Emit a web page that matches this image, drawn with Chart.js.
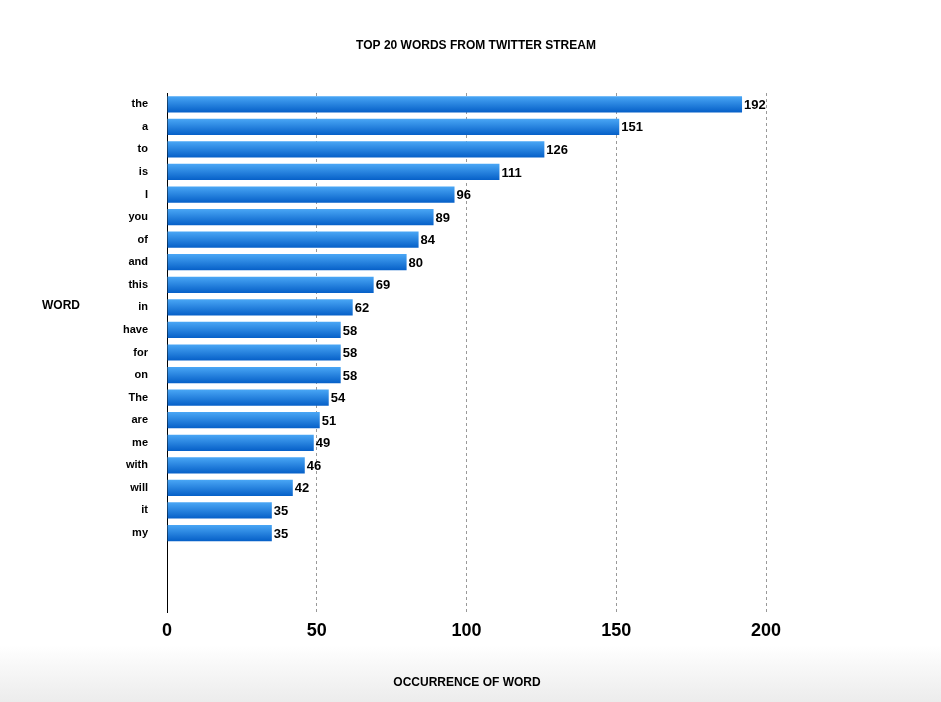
<!DOCTYPE html>
<html><head><meta charset="utf-8">
<script src="https://cdn.jsdelivr.net/npm/chart.js@4/dist/chart.umd.min.js"></script>
<style>
html,body{margin:0;padding:0;width:941px;height:702px;overflow:hidden;
background:linear-gradient(to bottom,#fff 0px,#fff 645px,#ececec 702px);}
#c{display:block}
</style></head><body>
<canvas id="c" width="941" height="702"></canvas>
<script>
const words=["the","a","to","is","I","you","of","and","this","in","have","for","on","The","are","me","with","will","it","my","","",""];
const counts=[192,151,126,111,96,89,84,80,69,62,58,58,58,54,51,49,46,42,35,35,null,null,null];
const xTicks=[0,50,100,150,200];
const FONT="'Liberation Sans', Arial, sans-serif";
Chart.defaults.font.family=FONT;
const overlay={id:'overlay',afterDatasetsDraw(chart){
  const c=chart.ctx,a=chart.chartArea;c.save();
  c.fillStyle='#000';
  c.font="bold 13px "+FONT;c.textBaseline='middle';c.textAlign='left';
  chart.getDatasetMeta(0).data.forEach((el,i)=>{if(counts[i]==null)return;c.fillText(String(counts[i]),el.x+2,el.y+1);});
  c.font="bold 12px "+FONT;c.textAlign='center';
  c.fillText('TOP 20 WORDS FROM TWITTER STREAM',476,46);
  c.fillText('OCCURRENCE OF WORD',467,683);
  c.fillText('WORD',61,306);
  c.restore();}};
new Chart(document.getElementById('c'),{type:'bar',
data:{labels:words,datasets:[{data:counts,
 backgroundColor:(ctx)=>{const y=ctx.chart.scales.y;if(!y)return '#1a7be0';const p=y.getPixelForValue(ctx.dataIndex);
  if(!isFinite(p))return '#1a7be0';
  const g=ctx.chart.ctx.createLinearGradient(0,p-8,0,p+8);g.addColorStop(0,'#49a6f5');g.addColorStop(1,'#0660c8');return g;},
 barPercentage:0.72,categoryPercentage:1,borderWidth:0}]},
options:{indexAxis:'y',responsive:false,animation:false,devicePixelRatio:1,
 layout:{padding:{top:93,right:175,left:0,bottom:0}},
 plugins:{legend:{display:false},tooltip:{enabled:false}},
 scales:{
  x:{min:0,max:200,afterBuildTicks:s=>{s.ticks=xTicks.map(v=>({value:v}));},
   afterFit:s=>{s.height=90;},
   ticks:{font:{size:18,weight:'bold'},color:'#000',padding:8},
   grid:{color:(c)=>c.tick&&c.tick.value===0?'rgba(0,0,0,0)':'#999',drawTicks:false,tickLength:0},
   border:{display:false,dash:[3,3]}},
  y:{afterFit:s=>{s.width=167;},
   ticks:{font:{size:11,weight:'bold'},color:'#000',padding:11},
   grid:{display:false},border:{display:true,color:'#000',width:1}}
 }},
plugins:[overlay]});
</script></body></html>
